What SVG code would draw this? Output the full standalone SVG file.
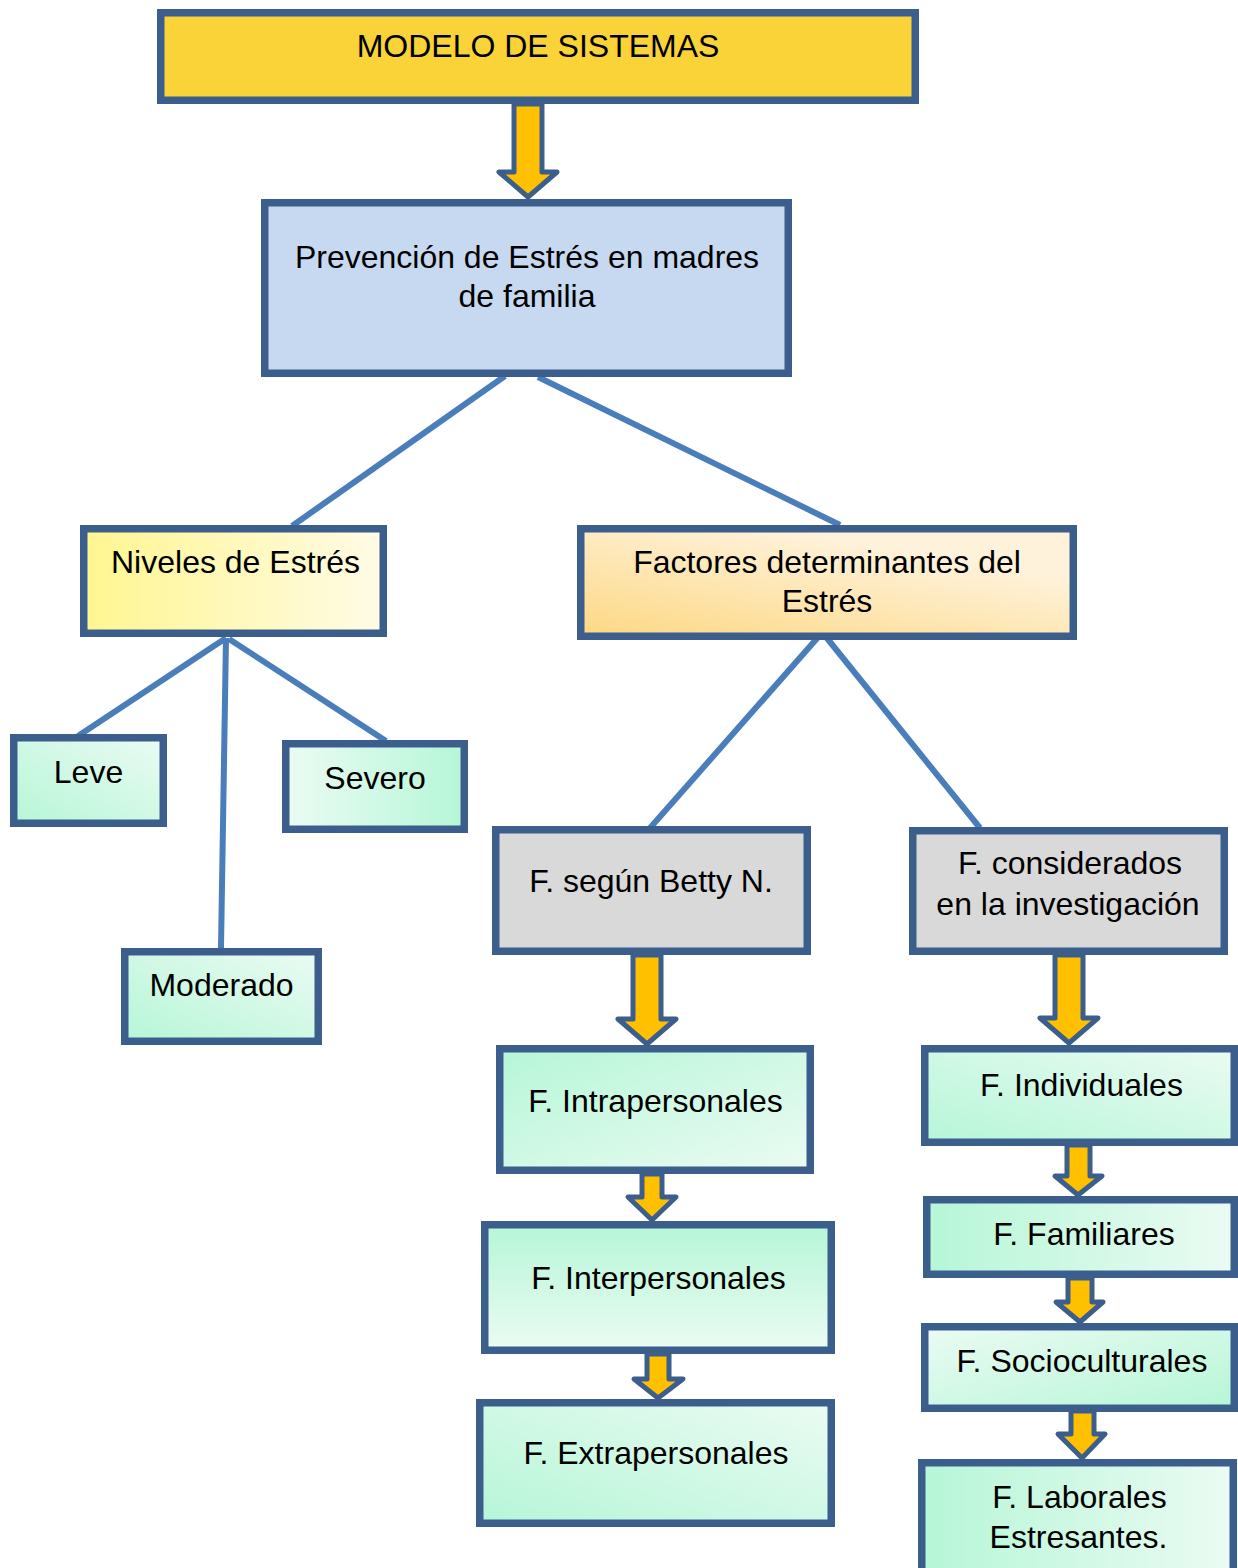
<svg xmlns="http://www.w3.org/2000/svg" width="1238" height="1568" viewBox="0 0 1238 1568">
<defs>
<linearGradient id="gNiv" x1="0" y1="0" x2="1" y2="0"><stop offset="0" stop-color="#fff690"/><stop offset="1" stop-color="#fffbe6"/></linearGradient>
<linearGradient id="gFac" x1="0" y1="1" x2="0.65" y2="0.2"><stop offset="0" stop-color="#fdd883"/><stop offset="1" stop-color="#fff2da"/></linearGradient>
<linearGradient id="mBL" x1="0" y1="1" x2="1" y2="0"><stop offset="0" stop-color="#b6f6d7"/><stop offset="1" stop-color="#ebfbf3"/></linearGradient>
<linearGradient id="mR" x1="0" y1="0" x2="1" y2="0"><stop offset="0" stop-color="#ebfbf3"/><stop offset="1" stop-color="#b6f6d7"/></linearGradient>
<linearGradient id="mL" x1="0" y1="0" x2="1" y2="0"><stop offset="0" stop-color="#b6f6d7"/><stop offset="1" stop-color="#ebfbf3"/></linearGradient>
<linearGradient id="mTL" x1="0" y1="0" x2="1" y2="1"><stop offset="0" stop-color="#b6f6d7"/><stop offset="1" stop-color="#ebfbf3"/></linearGradient>
<linearGradient id="mT" x1="0" y1="0" x2="0" y2="1"><stop offset="0" stop-color="#b6f6d7"/><stop offset="1" stop-color="#ebfbf3"/></linearGradient>
<linearGradient id="mBR" x1="0" y1="0" x2="1" y2="1"><stop offset="0" stop-color="#ebfbf3"/><stop offset="1" stop-color="#b6f6d7"/></linearGradient>
<style>
.box{stroke:#3b5e8c;stroke-width:7.5}
.t{font-family:"Liberation Sans",Arial,sans-serif;font-size:32px;fill:#000;text-anchor:middle}
.ln{stroke:#4a7ebb;stroke-width:6;fill:none}
.ar{fill:#ffc000;stroke:#3b5e8c;stroke-width:5;stroke-linejoin:round}
</style>
</defs>
<g id="connectors">
<line class="ln" x1="505" y1="376" x2="292" y2="526"/>
<line class="ln" x1="538" y1="377" x2="840" y2="525"/>
<line class="ln" x1="226" y1="638" x2="78" y2="736"/>
<line class="ln" x1="226" y1="638" x2="221" y2="948"/>
<line class="ln" x1="229" y1="639" x2="386" y2="741"/>
<line class="ln" x1="820" y1="635" x2="650" y2="828"/>
<line class="ln" x1="826" y1="637" x2="980" y2="828"/>
<polygon class="ar" points="514,104 542,104 542,172 557,172 528,197 499,172 514,172"/>
<polygon class="ar" points="633,955 661,955 661,1019 676,1019 647,1044 618,1019 633,1019"/>
<polygon class="ar" points="1055,955 1083,955 1083,1018 1098,1018 1069,1043 1040,1018 1055,1018"/>
<polygon class="ar" points="642,1174 662,1174 662,1197 676,1197 652,1220 628,1197 642,1197"/>
<polygon class="ar" points="647,1354 669,1354 669,1379 683,1379 658,1398 634,1379 647,1379"/>
<polygon class="ar" points="1067,1145 1090,1145 1090,1176 1102,1176 1078,1195 1055,1176 1067,1176"/>
<polygon class="ar" points="1068,1278 1092,1278 1092,1302 1103,1302 1080,1322 1056,1302 1068,1302"/>
<polygon class="ar" points="1071,1411 1094,1411 1094,1434 1105,1434 1082,1458 1058,1434 1071,1434"/>
</g>
<g id="modelo"><rect class="box" x="160.75" y="12.75" width="754.5" height="87.5" fill="#f9d338"/><text class="t" x="538" y="57">MODELO DE SISTEMAS</text></g>
<g id="prevencion"><rect class="box" x="264.75" y="202.75" width="523.5" height="170.5" fill="#c6d9f1"/><text class="t" x="527" y="268">Prevención de Estrés en madres</text><text class="t" x="527" y="307">de familia</text></g>
<g id="niveles"><rect class="box" x="83.75" y="528.75" width="299.5" height="104.5" fill="url(#gNiv)"/><text class="t" x="235.5" y="573">Niveles de Estrés</text></g>
<g id="factores"><rect class="box" x="580.75" y="528.75" width="492.5" height="107.5" fill="url(#gFac)"/><text class="t" x="827" y="573">Factores determinantes del</text><text class="t" x="827" y="612">Estrés</text></g>
<g id="leve"><rect class="box" x="13.75" y="737.75" width="149.5" height="85.5" fill="url(#mBL)"/><text class="t" x="88.5" y="783">Leve</text></g>
<g id="severo"><rect class="box" x="285.75" y="743.75" width="178.5" height="85.5" fill="url(#mR)"/><text class="t" x="375" y="788.5">Severo</text></g>
<g id="moderado"><rect class="box" x="124.75" y="951.75" width="193.5" height="89.5" fill="url(#mBL)"/><text class="t" x="221.5" y="996">Moderado</text></g>
<g id="betty"><rect class="box" x="495.75" y="829.75" width="311.5" height="121.5" fill="#d9d9d9"/><text class="t" x="651" y="891.5">F. según Betty N.</text></g>
<g id="considerados"><rect class="box" x="912.75" y="830.75" width="311.5" height="120.5" fill="#d9d9d9"/><text class="t" x="1070" y="873.5">F. considerados</text><text class="t" x="1068" y="914.5">en la investigación</text></g>
<g id="intrapersonales"><rect class="box" x="499.75" y="1048.75" width="310.5" height="121.5" fill="url(#mTL)"/><text class="t" x="655.5" y="1111.5">F. Intrapersonales</text></g>
<g id="interpersonales"><rect class="box" x="484.75" y="1224.75" width="346.5" height="125.5" fill="url(#mT)"/><text class="t" x="658.5" y="1288.5">F. Interpersonales</text></g>
<g id="extrapersonales"><rect class="box" x="479.75" y="1402.75" width="351.5" height="120.5" fill="url(#mBL)"/><text class="t" x="656" y="1464">F. Extrapersonales</text></g>
<g id="individuales"><rect class="box" x="924.75" y="1048.75" width="309.5" height="93.5" fill="url(#mBL)"/><text class="t" x="1081.5" y="1096">F. Individuales</text></g>
<g id="familiares"><rect class="box" x="926.75" y="1199.75" width="307.5" height="74.5" fill="url(#mL)"/><text class="t" x="1084" y="1245">F. Familiares</text></g>
<g id="socioculturales"><rect class="box" x="924.75" y="1326.75" width="309.5" height="81.5" fill="url(#mBR)"/><text class="t" x="1082" y="1371.5">F. Socioculturales</text></g>
<g id="laborales"><rect class="box" x="921.75" y="1462.75" width="311.5" height="120" fill="url(#mL)"/><text class="t" x="1079.5" y="1507.5">F. Laborales</text><text class="t" x="1078.5" y="1547.5">Estresantes.</text></g>
</svg>
